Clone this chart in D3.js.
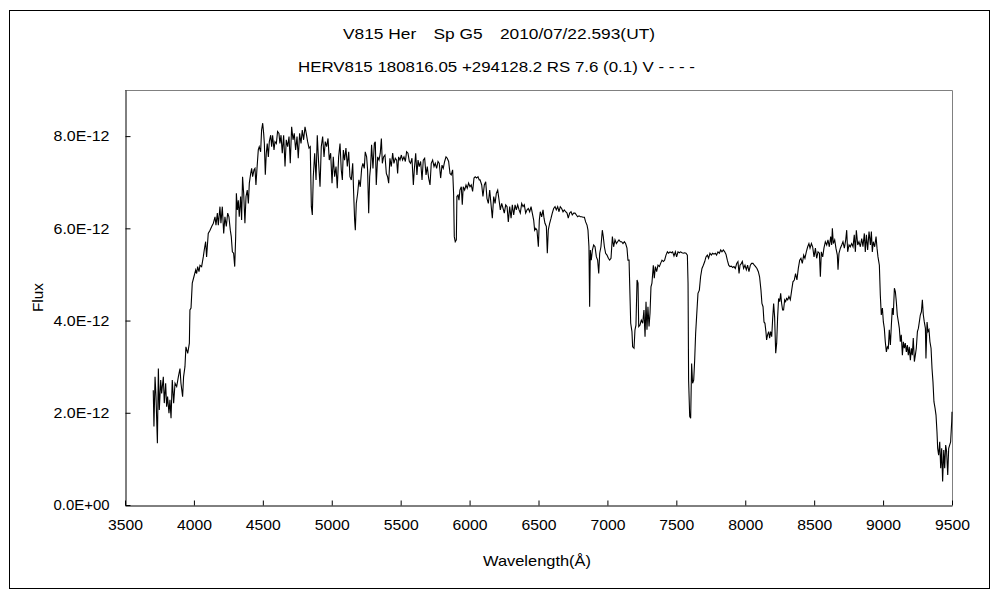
<!DOCTYPE html>
<html>
<head>
<meta charset="utf-8">
<script src="https://cdn.jsdelivr.net/npm/d3@7"></script>
<style>
  html, body { margin: 0; padding: 0; background: #fff; }
  svg text { font-family: "Liberation Sans", Arial, sans-serif; fill: #000; }
</style>
</head>
<body>
<svg id="chart" width="1000" height="600"></svg>
<script>
// ---- data (flux in units of 1E-12) ----
const titleLine1 = "V815 Her\u3000Sp G5\u30002010/07/22.593(UT)";
const titleLine2 = "HERV815 180816.05 +294128.2 RS 7.6 (0.1) V - - - -";
const xAxisTitle = "Wavelength(\u00C5)";
const yAxisTitle = "Flux";
const xTicks = [3500, 4000, 4500, 5000, 5500, 6000, 6500, 7000, 7500, 8000, 8500, 9000, 9500];
const yTicks = [0, 2, 4, 6, 8];
const yTickLabels = ["0.0E+00", "2.0E-12", "4.0E-12", "6.0E-12", "8.0E-12"];

const wavelength = [
3705,3710,3718,3725,3735,3742,3749,3759,3766,3778,3785,3795,3802,3809,3819,3826,3834,3843,3853,3863,
3875,3887,3899,3906,3918,3925,3935,3942,3955,3967,3971,3979,3988,4000,4013,4020,4027,4037,4044,4056,
4068,4075,4085,4092,4104,4117,4129,4141,4153,4160,4170,4177,4189,4196,4206,4216,4225,4235,4245,4254,
4264,4271,4279,4288,4296,4303,4308,4315,4322,4329,4339,4346,4353,4361,4370,4378,4387,4395,4402,4412,
4419,4426,4436,4443,4450,4457,4467,4474,4484,4491,4499,4506,4511,4518,4525,4532,4540,4547,4557,4564,
4571,4581,4588,4598,4607,4617,4624,4632,4641,4651,4661,4670,4680,4690,4699,4709,4719,4728,4738,4748,
4757,4767,4777,4786,4796,4806,4815,4825,4835,4844,4852,4859,4866,
4876,4886,4895,4905,4915,4924,4934,4944,4953,4963,4973,4982,4992,5002,5011,5021,5031,5040,5050,5060,
5069,5077,5084,5093,5103,5113,5123,5132,5142,5152,5159,5166,5171,5178,5188,5197,5207,5217,5226,5236,
5243,5253,5260,5268,5275,5282,5289,5299,5309,5316,5323,5333,5343,5352,5360,5367,5376,5386,5396,5405,
5413,5422,5432,5442,5451,5461,5471,5478,5485,5495,5505,5514,5524,5534,5543,5553,5563,5572,5582,5592,
5599,5609,5618,5626,5635,5645,5655,5664,5674,5684,5693,5703,5713,5722,5732,5742,5751,5761,5771,5780,
5790,5800,5809,5819,5829,5838,5848,5858,5867,5877,5884,5889,5896,5904,5908,5916,5923,5930,5940,5947,
5954,5964,5974,5983,5993,6003,6012,6022,6032,6041,6051,6061,6070,
6076,6088,6097,6107,6117,6126,6136,6146,6155,6165,6175,6185,6194,6204,6214,6223,6233,6243,6252,6262,
6272,6281,6291,6301,6310,6320,6330,6339,6349,6359,6368,6378,6388,6397,6407,6417,6426,6436,6446,6455,
6465,6472,6480,6489,6499,6506,6513,6523,6533,6540,6547,6557,6564,6571,6581,6591,6600,6610,6620,6629,
6639,6649,6658,6668,6678,6687,6697,6707,6716,6726,6736,6745,6755,6765,6775,6784,6794,6804,6813,6823,
6833,6842,6852,6859,6866,6871,6876,6883,6891,6900,6910,6920,6929,6937,6944,6953,6963,6970,6978,6987,
6997,7007,7016,7026,7036,7045,7055,7065,7074,7084,7094,7103,7113,7123,7132,7142,7149,7157,
7169,7178,7183,7193,7200,7207,7215,7222,7227,7236,7246,7256,7265,7273,7280,7287,7294,7302,7309,7316,
7323,7333,7340,7348,7357,7367,7377,7386,7396,7406,7415,7425,7435,7444,7454,7464,7473,7483,7493,7502,
7512,7522,7531,7541,7551,7560,7570,7580,7585,7589,7597,7604,7611,7618,7626,7633,7640,7647,7657,7667,
7676,7686,7696,7706,7715,7725,7734,7744,7754,7763,7773,7783,7792,7802,7812,7822,7831,7841,7851,7860,
7870,7880,7889,7899,7909,7918,7928,7938,7947,7955,7962,7972,7979,7988,7998,8008,8017,8027,8037,8046,
8056,8066,8075,8085,8095,8104,8114,8121,8129,8136,8143,8150,8155,8162,8170,8177,8184,8192,8199,8206,
8213,8221,8228,8235,8242,8250,8257,8264,8271,8278,8286,8293,8300,8308,8317,8327,8337,8346,8356,8365,
8375,8385,8395,8404,8414,8424,8433,8443,8453,8462,
8470,8480,8489,8499,8509,8518,8528,8538,8545,8552,8562,8571,8581,8591,8600,8610,8620,8627,8632,8639,
8649,8658,8668,8673,8680,8690,8700,8709,8719,8729,8736,8743,8753,8762,8772,8782,8791,8799,8806,8816,
8825,8835,8845,8854,8864,8871,8879,8888,8898,8908,8915,8922,8929,8939,8949,8956,8963,8973,8980,8987,
8995,9002,9009,9016,9024,9031,9038,9045,9053,9060,9067,9074,9082,9089,9096,9103,9111,9118,9125,9132,
9140,9147,9154,9161,9169,9176,9183,9190,9198,9205,9212,9219,9227,9234,9241,9249,9256,9263,9270,9278,
9285,9292,9299,9307,9311,9319,9326,9333,9340,9348,9355,9362,9369,9377,9384,9391,9396,9403,9411,9418,
9425,9432,9440,9447,9454,9461,9469,9476,9483,9490,9498,9500
];

const flux = [
2.49,1.70,2.78,2.35,1.34,2.96,2.06,2.71,2.42,2.78,2.21,2.64,2.13,2.35,1.99,2.28,1.88,2.71,2.21,2.64,
2.57,2.78,2.96,2.64,2.35,2.78,3.00,3.43,3.29,3.51,4.23,4.27,4.81,4.95,5.10,5.02,5.17,5.06,5.20,5.17,
5.38,5.53,5.71,5.38,5.89,5.96,6.04,6.11,6.25,6.07,6.33,6.07,6.47,6.11,6.47,5.89,6.25,6.04,6.33,6.25,
5.96,5.82,5.49,5.46,5.17,5.82,6.76,6.40,6.61,6.25,6.69,6.18,7.12,6.76,6.11,6.69,6.83,6.54,6.98,7.19,
7.30,7.12,7.27,7.30,6.94,7.27,7.70,7.77,7.66,8.13,8.28,8.06,7.84,7.16,7.63,7.84,7.55,7.88,8.02,7.77,
8.02,7.70,7.88,7.84,8.10,8.06,7.84,8.02,7.63,8.02,7.34,7.92,7.77,7.99,7.41,8.20,7.92,8.06,7.70,7.99,
7.52,8.06,7.84,8.13,7.92,8.20,8.06,7.88,7.74,7.77,6.47,6.29,7.12,
7.63,7.05,8.02,7.41,6.90,7.77,7.99,7.55,7.88,7.77,7.95,7.48,7.63,6.98,7.55,7.12,7.34,6.87,7.55,7.84,
7.27,7.05,7.70,7.48,7.74,7.34,7.66,7.12,7.05,7.41,6.76,6.18,5.96,6.54,6.76,7.05,6.90,7.30,7.41,7.30,
7.66,7.55,7.27,6.33,7.12,7.34,7.81,7.30,7.84,7.88,6.94,7.55,7.48,7.63,7.95,7.41,7.55,7.59,7.19,7.12,
6.98,7.52,7.34,7.63,7.41,7.52,7.48,7.19,7.55,7.48,7.59,7.48,7.55,7.45,7.66,7.63,7.45,7.41,7.52,6.94,
7.27,7.63,7.16,7.48,7.34,7.45,7.05,7.48,7.52,7.16,7.34,7.09,6.94,7.41,7.48,7.34,7.41,7.30,7.45,7.41,
7.09,7.37,7.30,7.45,7.55,7.52,7.45,7.19,7.16,7.27,6.76,5.82,5.71,5.75,6.69,6.72,6.61,6.83,6.90,6.51,
6.90,6.83,6.94,6.87,6.98,6.90,6.94,6.80,7.09,7.12,7.09,7.12,7.05,
7.05,6.94,6.69,6.94,7.01,6.65,6.54,6.83,6.54,6.22,6.69,6.54,6.76,6.83,6.61,6.40,6.54,6.43,6.33,6.51,
6.47,6.14,6.47,6.22,6.51,6.29,6.51,6.40,6.51,6.40,6.33,6.54,6.47,6.51,6.33,6.40,6.43,6.36,6.47,6.33,
6.18,5.96,6.00,5.96,5.60,6.18,6.36,6.25,6.40,6.22,6.11,6.04,5.46,5.96,6.11,6.22,6.33,6.43,6.47,6.40,
6.47,6.36,6.47,6.43,6.36,6.40,6.36,6.33,6.22,6.33,6.36,6.29,6.33,6.33,6.29,6.25,6.27,6.25,6.25,6.24,
6.24,6.14,6.07,5.96,5.60,4.30,5.53,5.31,5.53,5.64,5.60,5.38,5.31,5.02,5.46,5.60,5.96,5.82,5.60,5.46,
5.42,5.35,5.31,5.35,5.82,5.60,5.75,5.67,5.71,5.75,5.71,5.71,5.67,5.71,5.67,5.57,5.31,5.31,
3.94,3.76,3.43,3.40,3.80,3.90,4.88,4.81,3.87,3.90,4.01,3.94,4.23,3.65,4.41,3.80,4.30,3.87,4.16,4.73,
4.81,5.20,4.92,5.17,5.06,5.20,5.17,5.24,5.31,5.28,5.31,5.42,5.49,5.46,5.49,5.47,5.49,5.40,5.49,5.38,
5.49,5.47,5.49,5.47,5.46,5.47,5.46,5.42,4.81,2.71,1.92,1.88,3.07,2.64,2.71,3.14,3.72,4.08,4.59,4.66,
4.95,5.13,5.20,5.28,5.38,5.42,5.35,5.46,5.42,5.46,5.44,5.46,5.42,5.49,5.46,5.53,5.49,5.53,5.49,5.44,
5.31,5.20,5.17,5.18,5.15,5.17,5.13,5.24,5.28,5.02,5.20,5.24,5.28,5.13,5.20,5.10,5.20,5.06,5.20,5.24,
5.24,5.20,5.17,5.13,5.06,4.95,4.66,4.37,4.30,3.97,3.94,3.76,3.58,3.69,3.76,3.62,3.76,3.65,4.05,4.37,
4.08,3.29,3.51,4.08,4.48,4.41,4.59,4.37,4.23,4.23,4.45,4.41,4.48,4.45,4.52,4.45,4.66,4.84,4.88,5.02,
4.88,5.13,5.31,5.35,5.24,5.42,5.35,5.49,5.60,5.67,
5.57,5.67,5.60,5.38,5.57,5.35,5.49,5.46,4.95,5.49,5.38,5.57,5.71,5.64,5.75,5.60,5.82,5.64,6.00,5.67,
5.75,5.57,5.42,5.10,5.46,5.57,5.64,5.71,5.57,5.75,5.96,5.49,5.64,5.60,5.67,5.60,5.86,5.49,5.96,5.64,
5.71,5.60,5.78,5.60,5.89,5.49,5.86,5.53,5.93,5.64,5.93,5.49,5.71,5.60,5.82,5.57,5.38,5.20,4.55,4.12,
4.27,3.97,3.83,3.54,3.32,3.43,3.40,3.80,3.47,3.90,4.27,4.12,4.70,4.63,4.41,4.12,3.97,3.83,3.54,3.69,
3.25,3.54,3.40,3.51,3.32,3.47,3.25,3.43,3.14,3.40,3.25,3.62,3.11,3.25,3.40,3.76,3.83,3.97,4.12,4.19,
4.45,4.12,3.97,3.83,3.18,3.97,3.76,3.80,3.54,3.40,2.96,2.67,2.24,2.10,1.95,1.59,1.23,1.08,1.37,0.80,
1.23,0.51,1.19,0.80,1.30,1.16,0.65,1.23,1.30,1.37,1.81,2.02
];

// ---- layout ----
const svg = d3.select("#chart");
const plot = { left: 125, right: 952, top: 90, bottom: 505 };

const x = d3.scaleLinear().domain([3500, 9500]).range([plot.left, plot.right]);
const y = d3.scaleLinear().domain([0, 9]).range([plot.bottom, plot.top]);

// outer frame
svg.append("rect")
  .attr("x", 9.5).attr("y", 10.5)
  .attr("width", 980).attr("height", 578)
  .attr("fill", "none").attr("stroke", "#000").attr("stroke-width", 1);

// plot frame (top & right grey)
svg.append("path")
  .attr("d", `M${plot.left},${plot.top + 0.5}H${plot.right + 0.5}V${plot.bottom}`)
  .attr("fill", "none").attr("stroke", "#808080").attr("stroke-width", 1);

// spectrum line
const points = wavelength.map((w, i) => [w, flux[i]]);
const line = d3.line().x(d => x(d[0])).y(d => y(d[1]));
svg.append("path")
  .datum(points)
  .attr("d", line)
  .attr("fill", "none")
  .attr("stroke", "#000")
  .attr("stroke-width", 1.1)
  .attr("stroke-linejoin", "miter");

// x axis
const xAxis = d3.axisBottom(x).tickValues(xTicks).tickFormat(d3.format("d"))
  .tickSizeInner(-5).tickSizeOuter(0).tickPadding(14);
const gx = svg.append("g").attr("transform", `translate(0,${plot.bottom + 0.5})`).call(xAxis);
gx.selectAll("text").attr("font-size", 15)
  .attr("textLength", 35).attr("lengthAdjust", "spacingAndGlyphs");
gx.selectAll("line,path").attr("stroke", "#000");

// y axis
const yAxis = d3.axisLeft(y).tickValues(yTicks).tickFormat((d, i) => yTickLabels[i])
  .tickSizeInner(-5).tickSizeOuter(0).tickPadding(16);
const gy = svg.append("g").attr("transform", `translate(${plot.left + 0.5},0)`).call(yAxis);
gy.selectAll("text").attr("font-size", 15)
  .attr("textLength", 56).attr("lengthAdjust", "spacingAndGlyphs");
gy.selectAll("line,path").attr("stroke", "#000");

// titles
function label(txt, xPos, yPos, len, rotate) {
  const t = svg.append("text")
    .attr("text-anchor", "middle")
    .attr("font-size", 15)
    .attr("textLength", len)
    .attr("lengthAdjust", "spacingAndGlyphs")
    .text(txt);
  if (rotate) t.attr("transform", `translate(${xPos},${yPos}) rotate(-90)`);
  else t.attr("x", xPos).attr("y", yPos);
  return t;
}
label(titleLine1, 499, 39, 312);
label(titleLine2, 496.5, 72, 397);
label(xAxisTitle, 537, 566, 108);
label(yAxisTitle, 43, 297.5, 29, true);
</script>
</body>
</html>
